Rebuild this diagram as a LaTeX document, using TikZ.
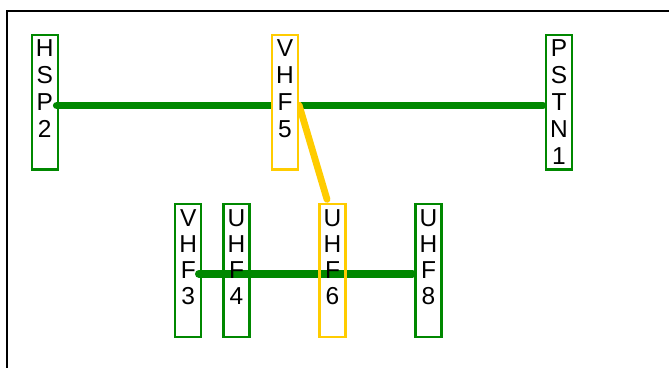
\documentclass[tikz,border=0pt]{standalone}
\usepackage{fontspec}
\setmainfont{Liberation Sans}
\usetikzlibrary{calc}
\definecolor{grn}{RGB}{0,136,0}
\definecolor{ylw}{RGB}{255,204,0}
\pgfdeclarelayer{bg}
\pgfsetlayers{bg,main}
\newcommand{\vlab}[2]{\parbox[t]{26pt}{\centering\fontsize{24.5}{#1}\selectfont #2}}
\tikzset{
  topbox/.style={draw=#1, line width=2.2pt, inner sep=0pt, minimum width=26pt,
    text height=21.5pt, text depth=113pt},
  botbox/.style={draw=#1, line width=2.2pt, inner sep=0pt, minimum width=26pt,
    text height=22.5pt, text depth=110.2pt},
  gline/.style={draw=grn, line width=7.8pt, line cap=round},
  yline/.style={draw=ylw, line width=6.8pt, line cap=round},
  frame/.style={draw=black, line width=2.3pt}
}
\begin{document}
\begin{tikzpicture}[x=1pt,y=-1pt]
\useasboundingbox (0,0) rectangle (669,367);
\draw[frame] (7,375) -- (7,10.7) -- (680,10.7);
% top row
\node[topbox=grn] (hsp2) at (44.7,102.25) {\vlab{27}{H\\S\\P\\2}};
\node[topbox=ylw, fill=white] (vhf5) at (285,102.25) {\vlab{27}{V\\H\\F\\5}};
\node[topbox=grn] (pstn1) at (559,102.25) {\vlab{27}{P\\S\\T\\N\\1}};
% bottom row
\node[botbox=grn] (vhf3) at (188.3,270.3) {\vlab{26}{V\\H\\F\\3}};
\node[botbox=grn] (uhf4) at (236.5,270.3) {\vlab{26}{U\\H\\F\\4}};
\node[botbox=ylw] (uhf6) at (332.5,270.3) {\vlab{26}{U\\H\\F\\6}};
\node[botbox=grn] (uhf8) at (428.5,270.3) {\vlab{26}{U\\H\\F\\8}};
\begin{pgfonlayer}{bg}
\draw[gline] ($(hsp2.east)+(-2,3.25)$) -- ($(pstn1.west)+(-2,3.25)$);
\draw[yline] ($(vhf5.east)+(0,3)$) -- ($(uhf6.north)+(-5.5,-3.5)$);
\draw[gline] ($(vhf3.east)+(-3.5,3.5)$) -- ($(uhf8.west)+(-2,3.5)$);
\end{pgfonlayer}
\end{tikzpicture}
\end{document}
